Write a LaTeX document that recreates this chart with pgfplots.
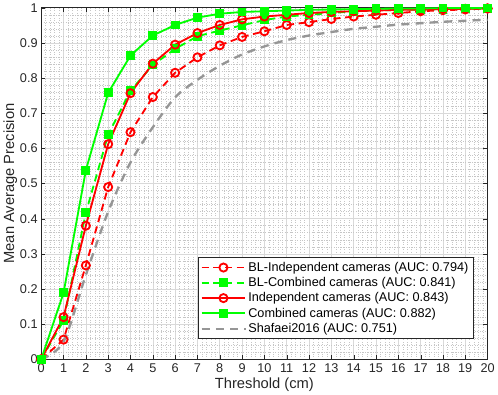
\documentclass[border=0pt]{standalone}
\usepackage{fontspec}
\setmainfont{Liberation Sans}
\usepackage{pgfplots}
\pgfplotsset{compat=1.18}
\definecolor{mred}{RGB}{255,0,0}
\definecolor{mgreen}{RGB}{0,255,0}
\definecolor{mgray}{RGB}{150,150,150}
\definecolor{axgray}{RGB}{38,38,38}

\begin{document}
\begin{tikzpicture}
\begin{axis}[
  scale only axis,
  width=438bp, height=345bp,
  xmin=0, xmax=20, ymin=0, ymax=1,
  xtick={0,1,...,20},
  ytick={0,0.1,...,1},
  yticklabels={0,0.1,0.2,0.3,0.4,0.5,0.6,0.7,0.8,0.9,1},
  minor x tick num=4, minor y tick num=4,
  grid=both,
  major grid style={gray!30, line width=0.6bp},
  minor grid style={gray!45, dotted, line width=0.5bp},
  tick align=inside,
  axis line style={axgray, line width=0.6bp},
  tick style={axgray},
  minor tick length=0pt,
  major tick length=4bp,
  tick label style={font=\fontsize{12.5}{14}\selectfont, text=axgray},
  xticklabel style={yshift=-1bp},
  /pgf/number format/assume math mode=true,
  xlabel={Threshold (cm)},
  ylabel={Mean Average Precision},
  label style={font=\fontsize{14.5}{16}\selectfont, text=axgray},
  xlabel style={yshift=2bp},
  ylabel style={yshift=-4bp},
  legend cell align=left,
  legend style={font=\fontsize{12.5}{14}\selectfont, at={(0.968,0.058)}, anchor=south east,
    draw=axgray, line width=0.6bp, row sep=0.5pt, inner sep=2.5pt},
  legend image code/.code={%
    \draw[mark repeat=2, mark phase=2]
      plot coordinates {(0bp,0bp) (21.5bp,0bp) (43bp,0bp)};},
  legend image post style={line width=1.8bp},
]
\addplot[mred, line width=1.8bp, dash pattern=on 7bp off 4.5bp, mark=o, mark size=4bp,
  mark options={solid, line width=1.8bp}]
  coordinates {(0,0)(1,0.056)(2,0.267)(3,0.49)(4,0.646)(5,0.746)(6,0.815)(7,0.859)
  (8,0.893)(9,0.917)(10,0.933)(11,0.951)(12,0.959)(13,0.968)(14,0.975)(15,0.98)
  (16,0.985)(17,0.99)(18,0.993)(19,0.995)(20,0.998)};
\addlegendentry{BL-Independent cameras (AUC: 0.794)}
\addplot[mgreen, line width=1.8bp, dash pattern=on 7bp off 4.5bp, mark=square*, mark size=3.4bp,
  mark options={solid}]
  coordinates {(0,0)(1,0.11)(2,0.417)(3,0.639)(4,0.764)(5,0.837)(6,0.883)(7,0.919)
  (8,0.935)(9,0.95)(10,0.965)(11,0.975)(12,0.98)(13,0.985)(14,0.99)(15,0.992)
  (16,0.994)(17,0.995)(18,0.996)(19,0.997)(20,0.998)};
\addlegendentry{BL-Combined cameras (AUC: 0.841)}
\addplot[mred, line width=1.8bp, mark=o, mark size=4bp, mark options={line width=1.8bp}]
  coordinates {(0,0)(1,0.12)(2,0.38)(3,0.612)(4,0.757)(5,0.841)(6,0.895)(7,0.928)
  (8,0.951)(9,0.967)(10,0.975)(11,0.98)(12,0.985)(13,0.988)(14,0.99)(15,0.992)
  (16,0.994)(17,0.995)(18,0.996)(19,0.997)(20,0.998)};
\addlegendentry{Independent cameras (AUC: 0.843)}
\addplot[mgreen, line width=1.8bp, mark=square*, mark size=3.4bp]
  coordinates {(0,0)(1,0.189)(2,0.538)(3,0.758)(4,0.864)(5,0.921)(6,0.951)(7,0.972)
  (8,0.983)(9,0.988)(10,0.99)(11,0.992)(12,0.994)(13,0.995)(14,0.996)(15,0.997)
  (16,0.998)(17,0.998)(18,0.999)(19,0.999)(20,0.999)};
\addlegendentry{Combined cameras (AUC: 0.882)}
\addplot[mgray, line width=2.3bp, dash pattern=on 8bp off 6bp, smooth]
  coordinates {(0,0)(1,0.05)(2,0.24)(3,0.42)(4,0.56)(5,0.66)(6,0.745)(7,0.795)
  (8,0.835)(9,0.867)(10,0.89)(11,0.908)(12,0.921)(13,0.931)(14,0.94)(15,0.946)
  (16,0.952)(17,0.956)(18,0.96)(19,0.963)(20,0.966)};
\addlegendentry{Shafaei2016 (AUC: 0.751)}
\end{axis}
\end{tikzpicture}
\end{document}
